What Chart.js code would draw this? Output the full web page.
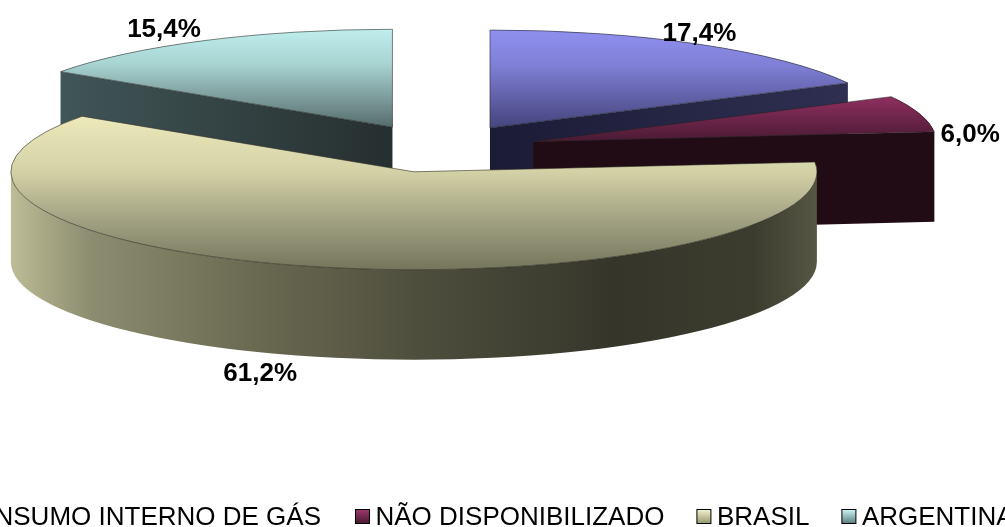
<!DOCTYPE html>
<html>
<head>
<meta charset="utf-8">
<title>Pie</title>
<style>html,body{margin:0;padding:0;background:#fff;overflow:hidden}canvas{display:block}</style>
<script src="https://cdn.jsdelivr.net/npm/chart.js@4"></script>
</head>
<body>
<canvas id="c" width="1005" height="527"></canvas>
<script>
const categories = ['CONSUMO INTERNO DE GÁS', 'NÃO DISPONIBILIZADO', 'BRASIL', 'ARGENTINA'];
const shares = [17.4, 6.0, 61.2, 15.4];
const baseColors = ['#9999FF', '#993366', '#FFFFCC', '#CCFFFF'];
const topStops = [
  [[0, '#8f8ff0'], [0.35, '#8080d8'], [1, '#44447c']],
  [[0, '#8e2f60'], [1, '#4a1a33']],
  [[0, '#ece9ba'], [0.35, '#d4d3a8'], [0.7, '#9e9e80'], [1, '#75755c']],
  [[0, '#bfeeec'], [0.35, '#a8d4d2'], [1, '#566c6c']]
];
const wallStops = [
  [[0, '#1b1b36'], [1, '#2f2f52']],
  [[0, '#210b14'], [1, '#210b14']],
  [[0, '#bcbc96'], [0.1, '#8c8c70'], [0.3, '#6a6a52'], [0.5, '#4f4f3e'], [0.75, '#35352a'], [0.92, '#3c3c2e'], [1, '#565644']],
  [[0, '#415657'], [1, '#262f2f']]
];
const legendSwatches = [
  ['#a5a5ff', '#44447c'], ['#a03a70', '#4a1a33'], ['#f8f6cc', '#9a9a78'], ['#cffcfc', '#5f8080']
];
const wallOrder = [0, 3, 1, 2];
const labelShift = [[0, -10], [50.5, 21], [-53.5, 107], [-41, -11]];
const legendGaps = [34, 32, 32, 0];

const TILT = 0.243, DEPTH = 90;
const FONT_BOLD = 'bold 26px "Liberation Sans", Arial, sans-serif';
const FONT_LEGEND = '26px "Liberation Sans", Arial, sans-serif';
const LEGEND_LEFT = -65, LEGEND_BASE = 525, LEGEND_TEXT = 20.5;

function geom(el, controller) {
  const off = (el.options.offset || 0) / 4;
  const mid = (el.startAngle + el.endAngle) / 2;
  return {
    a0: el.startAngle, a1: el.endAngle, mid, off,
    R: controller.outerRadius + off,
    ax: el.x + Math.cos(mid) * off,
    ay: el.y + Math.sin(mid) * off * TILT
  };
}
function gradient(ctx, x0, y0, x1, y1, stops) {
  const g = ctx.createLinearGradient(x0, y0, x1, y1);
  stops.forEach(s => g.addColorStop(s[0], s[1]));
  return g;
}
function traceTop(ctx, g) {
  ctx.beginPath();
  ctx.moveTo(g.ax, g.ay);
  ctx.ellipse(g.ax, g.ay, g.R, g.R * TILT, 0, g.a0, g.a1);
  ctx.closePath();
}
function cutWall(ctx, g, a) {
  const rx = g.ax + g.R * Math.cos(a), ry = g.ay + g.R * TILT * Math.sin(a);
  ctx.beginPath();
  ctx.moveTo(g.ax, g.ay);
  ctx.lineTo(rx, ry);
  ctx.lineTo(rx, ry + DEPTH);
  ctx.lineTo(g.ax, g.ay + DEPTH);
  ctx.closePath();
  ctx.fill();
}
const pie3d = {
  id: 'pie3d',
  beforeDatasetsDraw(chart) {
    const ctx = chart.ctx;
    const meta = chart.getDatasetMeta(0);
    const arcs = meta.data;
    wallOrder.forEach(i => {
      const g = geom(arcs[i], meta.controller);
      const xs = [g.ax, g.ax + g.R * Math.cos(g.a0), g.ax + g.R * Math.cos(g.a1)];
      for (let a = -Math.PI; a <= 3 * Math.PI; a += Math.PI) {
        if (a > g.a0 && a < g.a1) xs.push(g.ax + g.R * Math.cos(a));
      }
      ctx.fillStyle = gradient(ctx, Math.min(...xs), 0, Math.max(...xs), 0, wallStops[i]);
      // only the viewer-facing faces are extruded
      if (Math.cos(g.a1) > 1e-6) cutWall(ctx, g, g.a1);
      if (-Math.cos(g.a0) > 1e-6) cutWall(ctx, g, g.a0);
      const f0 = Math.max(g.a0, 0), f1 = Math.min(g.a1, Math.PI);
      if (f1 > f0) {
        ctx.beginPath();
        ctx.ellipse(g.ax, g.ay, g.R, g.R * TILT, 0, f0, f1);
        ctx.ellipse(g.ax, g.ay + DEPTH, g.R, g.R * TILT, 0, f1, f0, true);
        ctx.closePath();
        ctx.fill();
      }
    });
    // top faces are drawn by the library, squeezed by the tilt
    const cy = arcs[0].y;
    arcs.forEach((el, i) => {
      const g = geom(el, meta.controller);
      const sins = [0, Math.sin(g.a0), Math.sin(g.a1)];
      for (let a = -1.5 * Math.PI; a <= 3 * Math.PI; a += Math.PI) {
        if (a > g.a0 && a < g.a1) sins.push(Math.sin(a));
      }
      const lo = Math.min(...sins), hi = Math.max(...sins);
      // under-fill so that no wall shows along the library arc's edges
      ctx.fillStyle = gradient(ctx, 0, g.ay + g.R * TILT * lo, 0, g.ay + g.R * TILT * hi, topStops[i]);
      traceTop(ctx, g);
      ctx.fill();
      const grad = gradient(ctx, 0, el.y + g.R * lo, 0, el.y + g.R * hi, topStops[i]);
      el.options = Object.assign({}, el.options, { backgroundColor: grad, borderWidth: 0 });
      // the arc grows by offset * fix when drawn; keep every slice on the same rim
      const fix = 1 - Math.sin(Math.min(Math.PI, g.a1 - g.a0));
      el.outerRadius = g.R - g.off * fix;
    });
    ctx.save();
    ctx.translate(0, cy);
    ctx.scale(1, TILT);
    ctx.translate(0, -cy);
  },
  afterDatasetsDraw(chart) {
    const ctx = chart.ctx;
    ctx.restore();
    const meta = chart.getDatasetMeta(0);
    const arcs = meta.data;
    ctx.lineWidth = 1;
    ctx.strokeStyle = 'rgba(35,35,30,0.55)';
    arcs.forEach(el => { traceTop(ctx, geom(el, meta.controller)); ctx.stroke(); });
    // labels
    ctx.font = FONT_BOLD;
    ctx.fillStyle = '#000';
    ctx.textAlign = 'center';
    ctx.textBaseline = 'middle';
    arcs.forEach((el, i) => {
      const g = geom(el, meta.controller);
      const x = g.ax + g.R * Math.cos(g.mid) + labelShift[i][0];
      const y = g.ay + g.R * TILT * Math.sin(g.mid) + labelShift[i][1];
      ctx.fillText(shares[i].toFixed(1).replace('.', ',') + '%', x, y);
    });
    // legend
    ctx.font = FONT_LEGEND;
    ctx.textAlign = 'left';
    ctx.textBaseline = 'alphabetic';
    let x = LEGEND_LEFT;
    categories.forEach((name, i) => {
      ctx.fillStyle = gradient(ctx, 0, LEGEND_BASE - 16, 0, LEGEND_BASE - 2, [[0, legendSwatches[i][0]], [1, legendSwatches[i][1]]]);
      ctx.fillRect(x + 0.5, LEGEND_BASE - 15.5, 14, 14);
      ctx.strokeStyle = '#000';
      ctx.lineWidth = 1;
      ctx.strokeRect(x + 0.5, LEGEND_BASE - 15.5, 14, 14);
      ctx.fillStyle = '#000';
      ctx.fillText(name, x + LEGEND_TEXT, LEGEND_BASE);
      x += LEGEND_TEXT + ctx.measureText(name).width + legendGaps[i];
    });
  }
};
new Chart(document.getElementById('c'), {
  type: 'pie',
  data: {
    labels: categories,
    datasets: [{ data: shares, backgroundColor: baseColors, borderWidth: 0, offset: 396, radius: 304 }]
  },
  options: {
    responsive: false,
    animation: false,
    cutout: '0%',
    layout: { padding: { left: 0, top: 0, right: 128, bottom: 230 } },
    plugins: { legend: { display: false }, tooltip: { enabled: false }, title: { display: false } }
  },
  plugins: [pie3d]
});
</script>
</body>
</html>
